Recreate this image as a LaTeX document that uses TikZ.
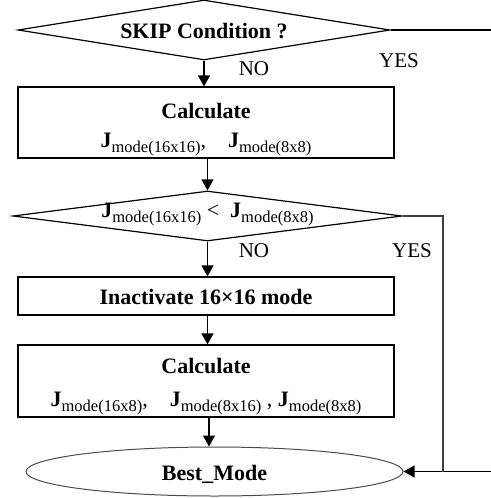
\documentclass[tikz,border=0pt]{standalone}
\usepackage{fontspec}
\setmainfont{Liberation Serif}
\usetikzlibrary{shapes.geometric,arrows.meta}
\newcommand{\Jsub}[1]{\textbf{J}\raisebox{-5pt}{\fontsize{16.5}{18}\selectfont mode(#1)}}
\newcommand{\placetext}[2]{\raisebox{#1}[0pt][0pt]{#2}}
\begin{document}
\begin{tikzpicture}[x=1pt,y=-1pt,
  font=\fontsize{22}{30}\selectfont,
  line width=1.2pt,
  box/.style={draw, inner sep=0pt, minimum width=376pt},
  dia/.style={draw, diamond, inner sep=0pt},
  arr/.style={-{Triangle[length=11pt,width=12pt]}, line width=1.3pt},
  lab/.style={font=\fontsize{21}{22}\selectfont}]
\useasboundingbox (0,0) rectangle (490,498);
\node[dia, minimum width=372pt, minimum height=60pt] (d1) at (204,30)
  {\placetext{-8pt}{\makebox[0pt]{\textbf{SKIP Condition ?}}}};
\node[box, minimum height=71pt] (b1) at (206,122.5)
  {\placetext{-24.5pt}{\begin{tabular}[b]{@{}c@{}}\textbf{Calculate}\\[-1pt] \Jsub{16x16},\quad \Jsub{8x8}\end{tabular}}};
\node[dia, minimum width=389pt, minimum height=50pt] (d2) at (207.5,216)
  {\placetext{-1pt}{\makebox[0pt]{\Jsub{16x16}\ <\ \ \Jsub{8x8}}}};
\node[box, minimum height=38pt] (b2) at (206,296)
  {\placetext{-8.5pt}{\makebox[0pt]{\textbf{Inactivate 16×16 mode}}}};
\node[box, minimum height=72pt] (b3) at (206,381)
  {\placetext{-25.5pt}{\begin{tabular}[b]{@{}c@{}}\textbf{Calculate}\\[3pt] \Jsub{16x8},\quad \Jsub{8x16} , \Jsub{8x8}\end{tabular}}};
\node[draw, black!70, line width=1pt, ellipse, inner sep=0pt, minimum width=377pt, minimum height=49pt] (e) at (214.5,471.5)
  {\placetext{-8.5pt}{\makebox[0pt]{\color{black}\textbf{Best\_Mode}}}};
\draw[arr] (d1.south) -- (d1.south |- b1.north);
\draw[arr] (b1.south -| d2.north) -- (d2.north);
\draw[arr] (d2.south) -- (d2.south |- b2.north);
\draw[arr] (b2.south -| d2.south) -- (b3.north -| d2.south);
\coordinate (c3) at (209,417);
\draw[arr] (b3.south -| c3) -- (e.north -| c3);
\coordinate (r1) at (493,30);
\coordinate (r2) at (443,216);
\draw[arr] (d1.east) -- (r1) |- (e.east);
\draw[line width=1.8pt, black!75] (d2.east) -- (r2) -- (r2 |- e.east);
\node[lab] (no1) at (254,69) {NO};
\node[lab] (yes1) at (399,61) {YES};
\node[lab] (no2) at (254,251) {NO};
\node[lab] (yes2) at (412,251) {YES};
\end{tikzpicture}
\end{document}
